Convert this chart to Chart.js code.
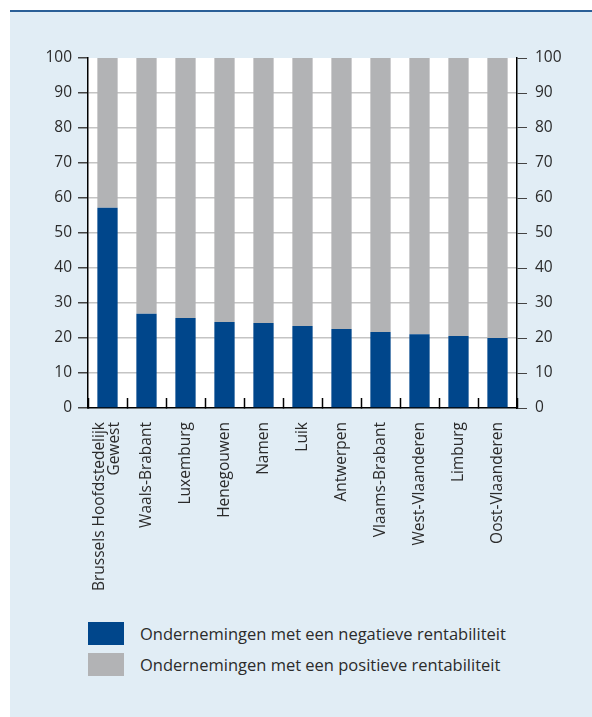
<!DOCTYPE html>
<html>
<head>
<meta charset="utf-8">
<script src="https://cdn.jsdelivr.net/npm/chart.js@4"></script>
<style>
  body { margin: 0; background: #fff; width: 592px; height: 717px; overflow: hidden; font-family: 'Open Sans', sans-serif; }
  #panel { position: absolute; left: 10px; top: 10px; width: 582px; height: 707px; background: #e1edf5; border-top: 2px solid #2b5f97; box-sizing: border-box; }
  #wrap { position: absolute; left: 0; top: 0; width: 592px; height: 600px; }
  #legend { position: absolute; left: 88px; top: 622px; color: #2b2b2b; font-size: 16.5px; }
  .item { display: flex; align-items: center; height: 23px; margin-bottom: 8px; }
  .box { width: 36px; height: 23px; margin-right: 16px; }
</style>
</head>
<body>
<div id="panel"></div>
<div id="wrap"><canvas id="chart" width="592" height="600"></canvas></div>
<div id="legend"></div>
<script>
// Categorieën en waarden (in %)
const regions = [
    ['Brussels Hoofdstedelijk', 'Gewest'], 'Waals-Brabant', 'Luxemburg', 'Henegouwen', 'Namen',
    'Luik', 'Antwerpen', 'Vlaams-Brabant', 'West-Vlaanderen', 'Limburg', 'Oost-Vlaanderen'
];
const negatief = [57.2, 26.9, 25.7, 24.6, 24.3, 23.4, 22.6, 21.7, 21.1, 20.6, 20.0];
const positief = negatief.map(v => Math.round((100 - v) * 10) / 10); // rest tot 100
const yTicks = [0, 10, 20, 30, 40, 50, 60, 70, 80, 90, 100];

const labelNeg = 'Ondernemingen met een negatieve rentabiliteit';
const labelPos = 'Ondernemingen met een positieve rentabiliteit';
const blue = '#00468b';
const grey = '#b2b3b5';
const textColor = '#2b2b2b';

// Witte achtergrond voor het plotgebied
const plotBackground = {
    id: 'plotBackground',
    beforeDraw(chart) {
        const { ctx, chartArea: a } = chart;
        ctx.save();
        ctx.fillStyle = '#ffffff';
        ctx.fillRect(a.left, a.top, a.right - a.left, a.bottom - a.top);
        ctx.restore();
    }
};

const font = { family: "'Open Sans', sans-serif", size: 15.5 };

const chart = new Chart(document.getElementById('chart'), {
    type: 'bar',
    data: {
        labels: regions,
        datasets: [
            { label: labelNeg, data: negatief, backgroundColor: blue },
            { label: labelPos, data: positief, backgroundColor: grey }
        ]
    },
    options: {
        responsive: false,
        animation: false,
        layout: { padding: { top: 58, bottom: 0, left: 0, right: 0 } },
        plugins: { legend: { display: false }, tooltip: { enabled: false } },
        datasets: { bar: { categoryPercentage: 1, barPercentage: 0.52 } },
        scales: {
            x: {
                stacked: true,
                offset: true,
                border: { color: '#000', width: 1.5 },
                grid: {
                    offset: true,
                    drawOnChartArea: false,
                    drawTicks: true,
                    tickLength: -10,
                    tickColor: '#000',
                    tickWidth: 1.5
                },
                ticks: {
                    color: textColor,
                    font: { family: font.family, size: 15.5, lineHeight: 0.95 },
                    minRotation: 90,
                    maxRotation: 90,
                    autoSkip: false,
                    padding: 24
                },
                afterFit(scale) { scale.height = 600 - 408; },
                afterUpdate(scale) {
                    // tweeregelig label rond het midden van de staaf zetten
                    const orig = scale._computeLabelItems;
                    scale._computeLabelItems = function (area) {
                        const items = orig.call(this, area);
                        items.forEach(it => {
                            if (Array.isArray(it.label)) it.options.translation[0] -= 8;
                        });
                        return items;
                    };
                }
            },
            y: {
                stacked: true,
                min: 0,
                max: 100,
                position: 'left',
                border: { color: '#000', width: 1.5 },
                grid: {
                    color: ctx => (ctx.tick && (ctx.tick.value === 100 || ctx.tick.value === 0)) ? 'rgba(0,0,0,0)' : '#c4c4c4',
                    lineWidth: 1.5,
                    tickColor: '#444',
                    tickLength: 10
                },
                afterBuildTicks(scale) { scale.ticks = yTicks.map(v => ({ value: v })); },
                ticks: { color: textColor, font: font, padding: 6 },
                afterFit(scale) { scale.width = 88; }
            },
            y2: {
                min: 0,
                max: 100,
                position: 'right',
                border: { color: '#000', width: 1.5 },
                grid: { drawOnChartArea: false, tickColor: '#444', tickLength: 10 },
                afterBuildTicks(scale) { scale.ticks = yTicks.map(v => ({ value: v })); },
                ticks: { color: textColor, font: font, padding: 8 },
                afterFit(scale) { scale.width = 592 - 517; }
            }
        }
    },
    plugins: [plotBackground]
});

// Legenda onder het diagram
const legend = document.getElementById('legend');
chart.data.datasets.forEach(ds => {
    const item = document.createElement('div');
    item.className = 'item';
    item.innerHTML = '<span class="box" style="background:' + ds.backgroundColor + '"></span><span>' + ds.label + '</span>';
    legend.appendChild(item);
});
</script>
</body>
</html>
